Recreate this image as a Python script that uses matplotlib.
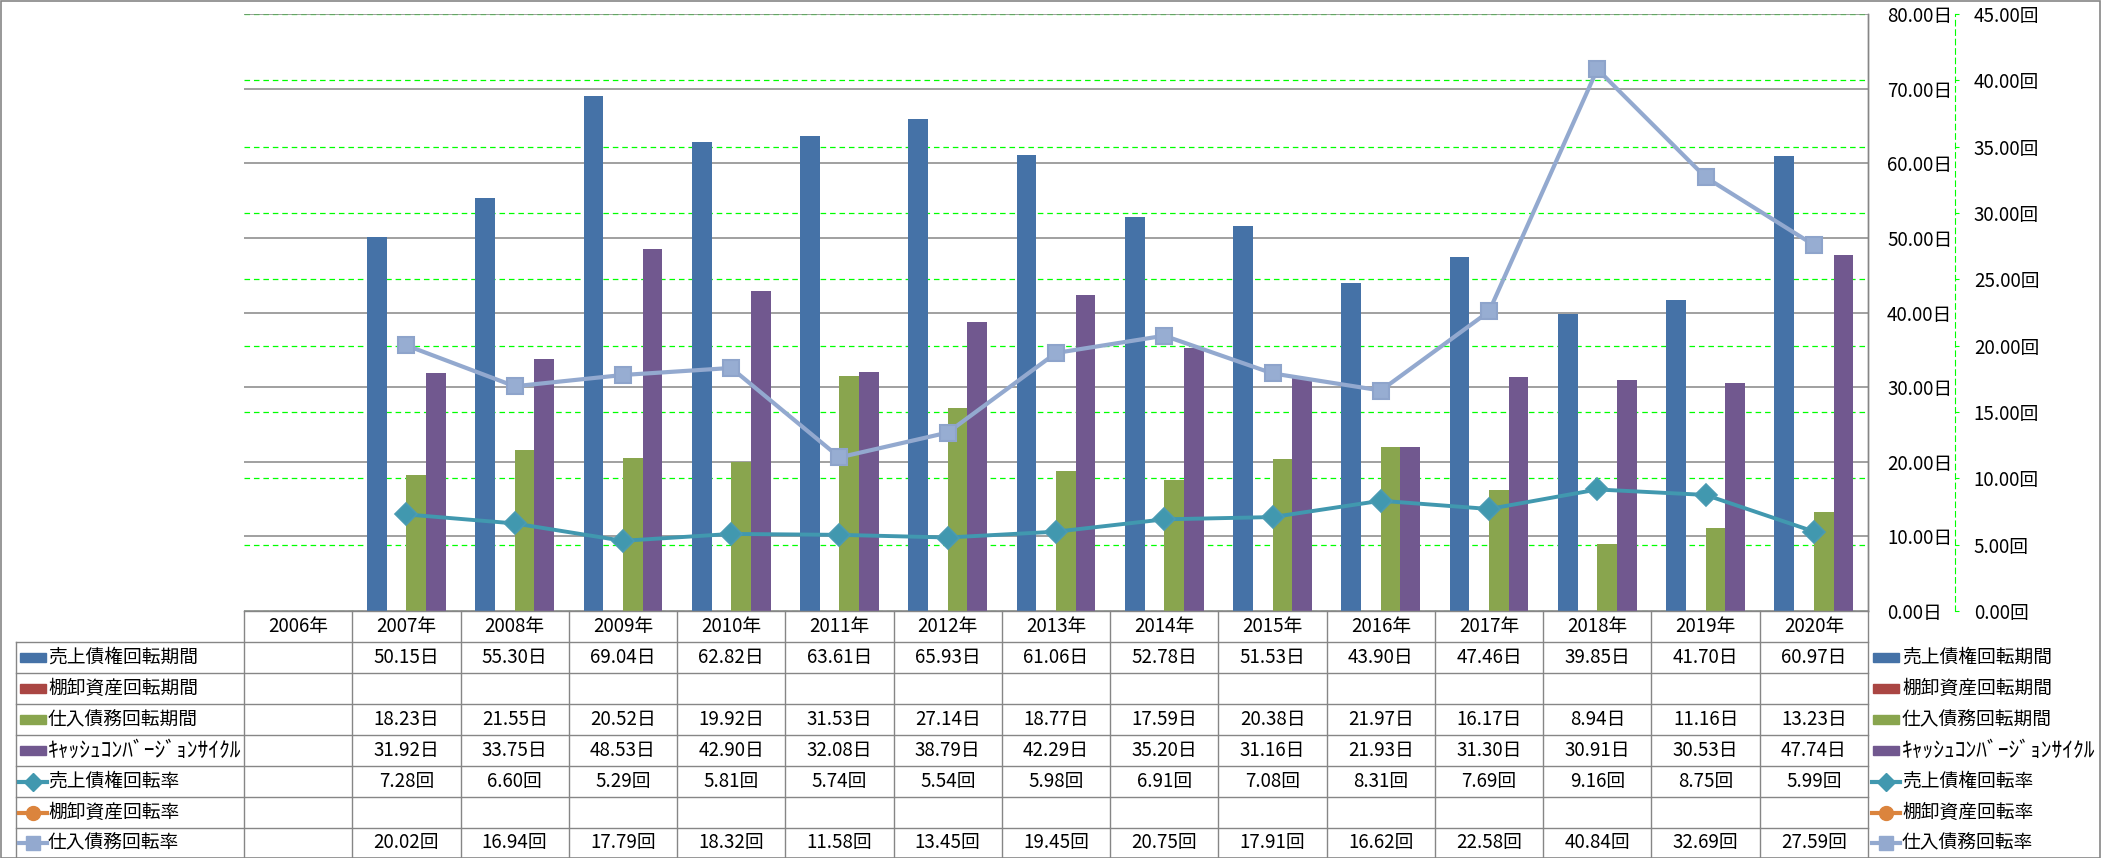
import numpy as np
import matplotlib
matplotlib.use('Agg')
import matplotlib.pyplot as plt
import matplotlib.lines as mlines
import matplotlib.patches as mpatches
from matplotlib.ticker import FuncFormatter
from matplotlib.transforms import blended_transform_factory

plt.rcParams['font.family'] = ['Noto Sans CJK JP', 'DejaVu Sans']
plt.rcParams['lines.scale_dashes'] = False

# data
years = ['2006年', '2007年', '2008年', '2009年', '2010年', '2011年', '2012年', '2013年',
         '2014年', '2015年', '2016年', '2017年', '2018年', '2019年', '2020年']

uriage_kikan  = [None, 50.15, 55.30, 69.04, 62.82, 63.61, 65.93, 61.06, 52.78, 51.53, 43.90, 47.46, 39.85, 41.70, 60.97]
tana_kikan    = [None] * 15
shiire_kikan  = [None, 18.23, 21.55, 20.52, 19.92, 31.53, 27.14, 18.77, 17.59, 20.38, 21.97, 16.17, 8.94, 11.16, 13.23]
ccc           = [None, 31.92, 33.75, 48.53, 42.90, 32.08, 38.79, 42.29, 35.20, 31.16, 21.93, 31.30, 30.91, 30.53, 47.74]
uriage_kaiten = [None, 7.28, 6.60, 5.29, 5.81, 5.74, 5.54, 5.98, 6.91, 7.08, 8.31, 7.69, 9.16, 8.75, 5.99]
tana_kaiten   = [None] * 15
shiire_kaiten = [None, 20.02, 16.94, 17.79, 18.32, 11.58, 13.45, 19.45, 20.75, 17.91, 16.62, 22.58, 40.84, 32.69, 27.59]

names = ['売上債権回転期間', '棚卸資産回転期間', '仕入債務回転期間', 'ｷｬｯｼｭｺﾝﾊﾞｰｼﾞｮﾝｻｲｸﾙ',
         '売上債権回転率', '棚卸資産回転率', '仕入債務回転率']
units = ['日', '日', '日', '日', '回', '回', '回']
series = [uriage_kikan, tana_kikan, shiire_kikan, ccc, uriage_kaiten, tana_kaiten, shiire_kaiten]
colors = ['#4572A7', '#AA4643', '#89A54E', '#71588F', '#4198AF', '#DB843D', '#93A9CF']
markers = [None, None, None, None, 'D', 'o', 's']

GRAY = '#868686'
GREEN = '#00FF00'
FS = 13.5

W, H = 2101, 858
def fx(px):
    return px / W
def fy(py):
    return 1 - py / H

fig = plt.figure(figsize=(W / 100, H / 100), dpi=100)

L, R, T, B = 244, 1868, 14, 611
rect = [fx(L), fy(B), fx(R - L), (B - T) / H]

# secondary axis (green grid + labels), at the back
axg = fig.add_axes(rect, zorder=0)
# primary axis (bars + gray grid)
ax = fig.add_axes(rect, zorder=1)
# lines on top
axl = fig.add_axes(rect, zorder=2)

x = np.arange(len(years))
for a in (axg, ax, axl):
    a.set_xlim(-0.5, len(years) - 0.5)
    a.tick_params(axis='x', bottom=False, labelbottom=False)
    for s in a.spines.values():
        s.set_visible(False)

# secondary
axg.set_ylim(0, 45)
axg.set_yticks(np.arange(0, 46, 5))
axg.yaxis.set_major_formatter(FuncFormatter(lambda v, p: f'{v:.2f}回'))
axg.yaxis.tick_right()
axg.tick_params(axis='y', left=False, right=True, labelleft=False, labelright=True,
                length=3, width=0.8, color=GREEN, pad=10.5, labelsize=FS)
axg.spines['right'].set_visible(True)
axg.spines['right'].set_position(('outward', 87 * 0.72))
axg.spines['right'].set_color(GREEN)
axg.spines['right'].set_linewidth(0.8)
axg.spines['right'].set_linestyle((0, (4, 2.8)))
axg.yaxis.grid(True, color=GREEN, linewidth=0.9, linestyle=(0, (4, 2.8)))

# primary
ax.patch.set_visible(False)
ax.set_ylim(0, 80)
ax.set_yticks(np.arange(0, 81, 10))
ax.yaxis.set_major_formatter(FuncFormatter(lambda v, p: f'{v:.2f}日'))
ax.yaxis.tick_right()
ax.tick_params(axis='y', left=False, right=True, labelleft=False, labelright=True,
               length=0, pad=13.7, labelsize=FS)
ax.spines['right'].set_visible(True)
ax.spines['right'].set_color(GRAY)
ax.spines['right'].set_linewidth(1.0)
ax.set_axisbelow(True)
ax.yaxis.grid(True, color=GRAY, linewidth=1.1)

bw = 1 / 5.5
for i in range(4):
    vals = np.array(series[i], dtype=float)
    ok = ~np.isnan(vals)
    ax.bar(x[ok] + (i - 1.5) * bw, vals[ok], width=bw, color=colors[i], zorder=2)

# lines
axl.patch.set_visible(False)
axl.set_ylim(0, 45)
axl.set_yticks([])
axl.plot(x, np.array(uriage_kaiten, dtype=float), color=colors[4], lw=2.8,
         marker='D', ms=11, mfc=colors[4], mec='#4A9BB3', mew=1.2, clip_on=False)
axl.plot(x, np.array(shiire_kaiten, dtype=float), color=colors[6], lw=3.0,
         marker='s', ms=11, mfc='#97ADD2', mec='#8EA4CB', mew=1.5, clip_on=False)

# data table
col_edges = np.linspace(L, R, len(years) + 1)
row_edges = [611, 642, 673, 704, 735, 766, 797, 828, 857]
tab_left = 16

def fline(x0, y0, x1, y1, **kw):
    fig.add_artist(mlines.Line2D([fx(x0), fx(x1)], [fy(y0), fy(y1)], color=GRAY,
                                 lw=1.0, zorder=5, **kw))

fline(L, row_edges[0], R, row_edges[0])
for ry in row_edges[1:-1]:
    fline(tab_left, ry, R, ry)
fline(tab_left, row_edges[1], tab_left, row_edges[-1])
for cx in col_edges:
    fline(cx, row_edges[0], cx, row_edges[-1])
fline(R, T, R, row_edges[0])

# figure border
fig.add_artist(mpatches.Rectangle((0.5 / W, 0.5 / H), (W - 1.5) / W, (H - 1.5) / H,
                                  transform=fig.transFigure, fill=False,
                                  edgecolor=GRAY, lw=1.2, zorder=6))

tr = blended_transform_factory(ax.transData, fig.transFigure)
hy = (row_edges[0] + row_edges[1]) / 2
for j, yr in enumerate(years):
    fig.text(x[j], fy(hy), yr, transform=tr, ha='center', va='center', fontsize=FS)

def legend_key(k, xc, yc):
    if markers[k] is None:
        fig.add_artist(mpatches.Rectangle((fx(xc - 13), fy(yc + 4.5)), 26 / W, 9 / H,
                                          transform=fig.transFigure, color=colors[k], zorder=6))
    else:
        fig.add_artist(mlines.Line2D([fx(xc - 14), fx(xc + 14)], [fy(yc), fy(yc)],
                                     color=colors[k], lw=3, zorder=6))
        fig.add_artist(mlines.Line2D([fx(xc)], [fy(yc)], color=colors[k], marker=markers[k],
                                     ms=10 if markers[k] != 'D' else 9, lw=0, zorder=7))

for k in range(7):
    yc = (row_edges[k + 1] + row_edges[k + 2]) / 2
    # half-width katakana label is set a bit larger to match its width
    lfs = 15.5 if k == 3 else FS
    legend_key(k, 33, yc)
    fig.text(fx(48), fy(yc), names[k], ha='left', va='center', fontsize=lfs)
    legend_key(k, 1886, yc)
    fig.text(fx(1902), fy(yc), names[k], ha='left', va='center', fontsize=lfs)
    vals = np.array(series[k], dtype=float)
    for j in range(len(years)):
        if not np.isnan(vals[j]):
            fig.text(x[j], fy(yc), f'{vals[j]:.2f}{units[k]}', transform=tr,
                     ha='center', va='center', fontsize=FS)

fig.savefig('out.png', dpi=100)
